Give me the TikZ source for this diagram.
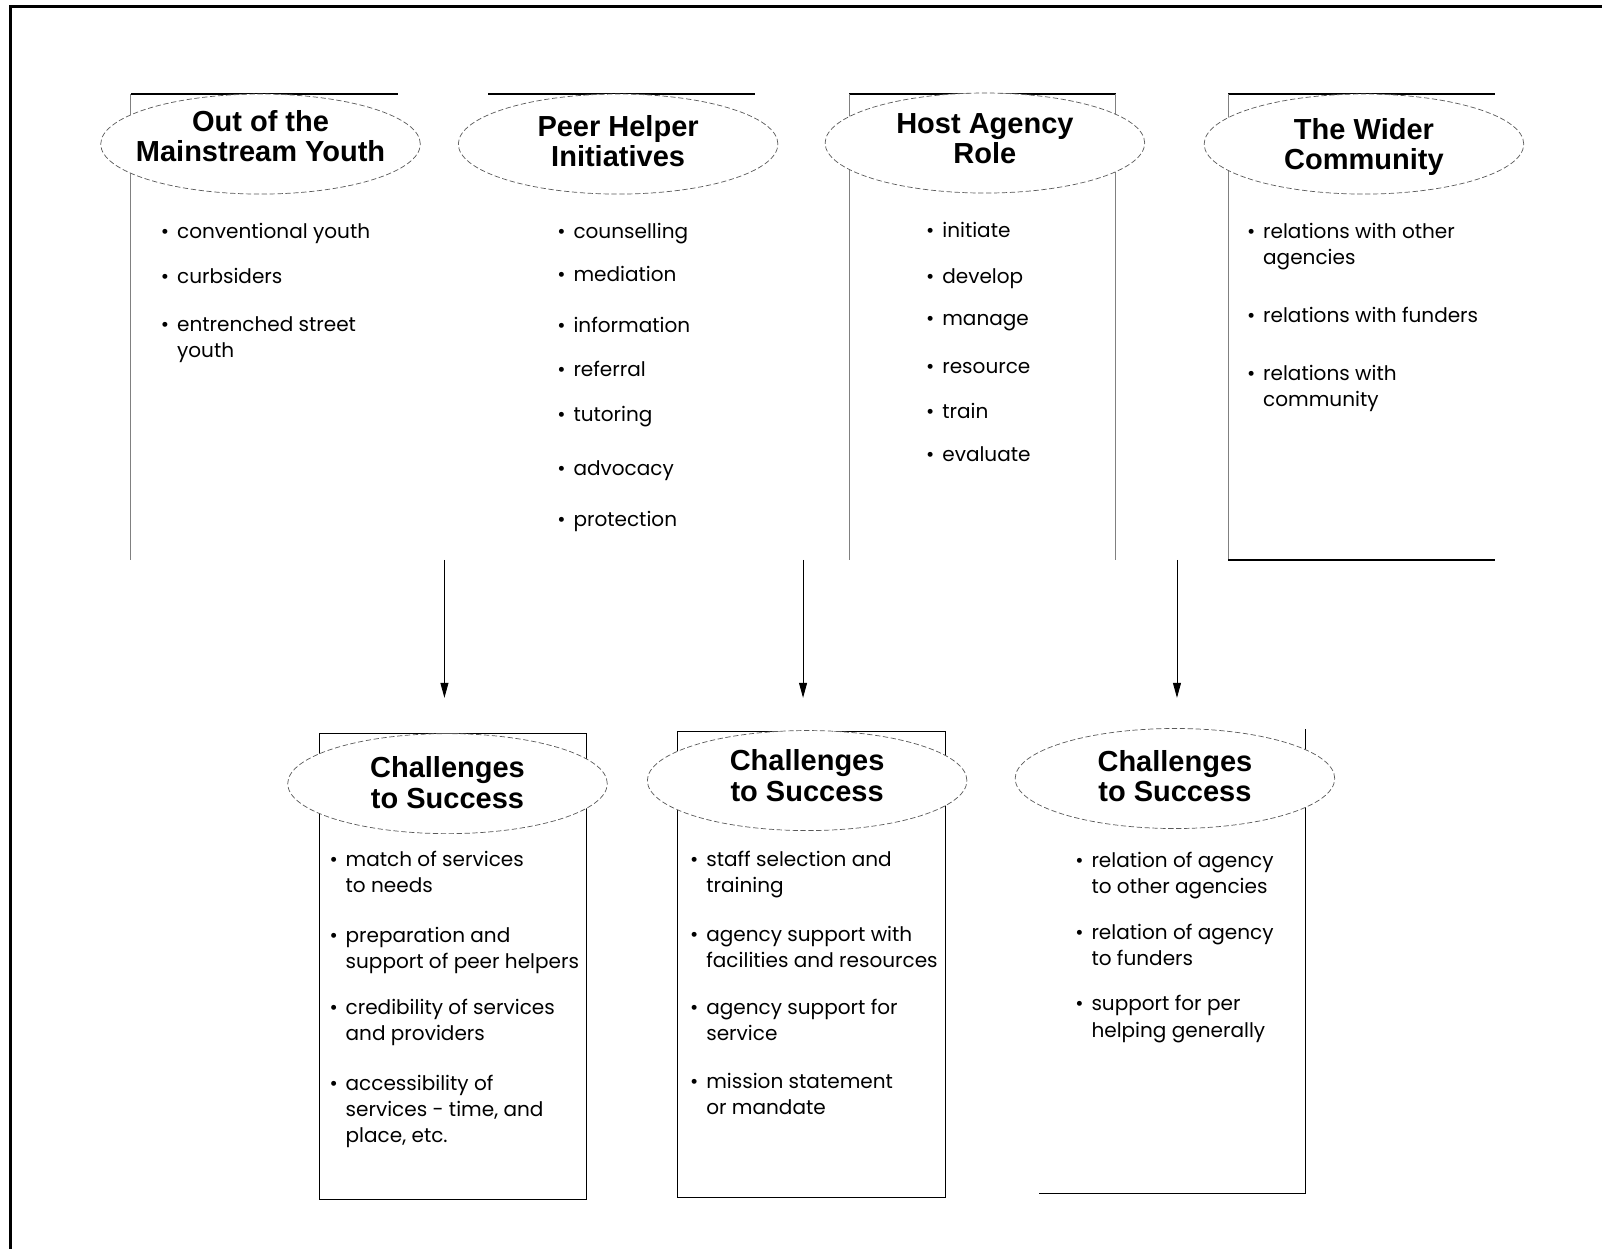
\documentclass[tikz,border=0pt]{standalone}
\usepackage{fontspec}
\setmainfont{Poppins}
\newfontfamily\titelfont{Liberation Sans}
\usetikzlibrary{arrows.meta,shapes.geometric}

\tikzset{
	titel/.style={ellipse, draw=gray!70!black, fill=white, line width=0.4pt,
		dash pattern=on 3pt off 1.5pt, minimum width=6.39cm, minimum height=2cm,
		inner sep=-1.5cm, align=center, font=\titelfont\bfseries\fontsize{16.5}{17.3}\selectfont},
	punkt/.style={anchor=base west, align=left, inner sep=0pt,
		font=\fontsize{11.4}{14.8}\selectfont},
	kante/.style={line width=0.8pt, black},
	seite/.style={line width=0.5pt, gray},
	pfeil/.style={-{Triangle[length=3mm,width=1.6mm]}, line width=0.5pt}
}
\newcommand{\pkt}{\llap{\textbullet\hspace{4.5pt}}}

\begin{document}
\begin{tikzpicture}[x=0.2043mm,y=-0.2043mm]
		\useasboundingbox (0,0) rectangle (1568,1222.5);
		
		% zeichne Rahmen
		\draw[line width=1.7pt] (10,1222.5) -- (10,6) -- (1568,6);
		
		% zeichne obere Kaesten
		\draw[kante] (128,92) -- (390,92);
		\draw[seite] (128,92) -- (128,548);
		\draw[kante] (478,92) -- (739,92);
		\draw[kante] (831,92) -- (1092,92);
		\draw[seite] (831,92) -- (831,548);
		\draw[seite] (1092,92) -- (1092,548);
		\draw[kante] (1202,92) -- (1463,92);
		\draw[seite] (1202,92) -- (1202,548);
		\draw[kante] (1202,548) -- (1463,548);
		
		% zeichne untere Kaesten
		\draw[line width=0.5pt] (313,718) rectangle (574,1174);
		\draw[line width=0.5pt] (663,716) rectangle (925,1172);
		\draw[line width=0.5pt] (1278,714) -- (1278,1168);
		\draw[kante] (1017,1168) -- (1278,1168);
		
		% zeichne Ellipsen
		\node[titel, text depth=9.3pt] (jugend) at (255,141) {Out of the\\Mainstream Youth};
		\node[titel, text depth=3.8pt] (helfer) at (605,141) {Peer Helper\\Initiatives};
		\node[titel, text depth=4.8pt] (agentur) at (964,140) {Host Agency\\Role};
		\node[titel, text depth=0pt] (gemeinde) at (1335,141) {The Wider\\Community};
		\node[titel, text depth=1.4pt] (hind1) at (438,767) {Challenges\\to Success};
		\node[titel, text depth=6pt] (hind2) at (790,764) {Challenges\\to Success};
		\node[titel, text depth=3.1pt] (hind3) at (1150,762) {Challenges\\to Success};
		
		% Punkte Jugend
		\node[punkt] (j1) at (173,233) {\pkt conventional youth};
		\node[punkt] (j2) at (173,277) {\pkt curbsiders};
		\node[punkt] (j3) at (173,350) {\pkt entrenched street\\youth};
		
		% Punkte Helfer
		\node[punkt] (h1) at (561,233) {\pkt counselling};
		\node[punkt] (h2) at (561,276) {\pkt mediation};
		\node[punkt] (h3) at (561,325) {\pkt information};
		\node[punkt] (h4) at (561,369) {\pkt referral};
		\node[punkt] (h5) at (561,413) {\pkt tutoring};
		\node[punkt] (h6) at (561,465) {\pkt advocacy};
		\node[punkt] (h7) at (561,515) {\pkt protection};
		
		% Punkte Agentur
		\node[punkt] (a1) at (922,232) {\pkt initiate};
		\node[punkt] (a2) at (922,277) {\pkt develop};
		\node[punkt] (a3) at (922,319) {\pkt manage};
		\node[punkt] (a4) at (922,366) {\pkt resource};
		\node[punkt] (a5) at (922,410) {\pkt train};
		\node[punkt] (a6) at (922,452) {\pkt evaluate};
		
		% Punkte Gemeinde
		\node[punkt] (g1) at (1236,259) {\pkt relations with other\\agencies};
		\node[punkt] (g2) at (1236,316) {\pkt relations with funders};
		\node[punkt] (g3) at (1236,398) {\pkt relations with\\community};
		
		% Punkte Hindernisse
		\node[punkt] (k1) at (338,874) {\pkt match of services\\to needs};
		\node[punkt] (k2) at (338,948) {\pkt preparation and\\support of peer helpers};
		\node[punkt] (k3) at (338,1018) {\pkt credibility of services\\and providers};
		\node[punkt] (k4) at (338,1118) {\pkt accessibility of\\services - time, and\\place, etc.};
		\node[punkt] (l1) at (691,874) {\pkt staff selection and\\training};
		\node[punkt] (l2) at (691,947) {\pkt agency support with\\facilities and resources};
		\node[punkt] (l3) at (691,1018) {\pkt agency support for\\service};
		\node[punkt] (l4) at (691,1091) {\pkt mission statement\\or mandate};
		\node[punkt] (m1) at (1068,875) {\pkt relation of agency\\to other agencies};
		\node[punkt] (m2) at (1068,945) {\pkt relation of agency\\to funders};
		\node[punkt] (m3) at (1068,1015) {\pkt support for per\\helping generally};
		
		% zeichne Pfeile
		\coordinate (p1a) at (435,548);
		\coordinate (p1b) at (435,683);
		\coordinate (p2a) at (786,548);
		\coordinate (p2b) at (786,683);
		\coordinate (p3a) at (1152,548);
		\coordinate (p3b) at (1152,683);
		\draw[pfeil] (p1a) -- (p1b);
		\draw[pfeil] (p2a) -- (p2b);
		\draw[pfeil] (p3a) -- (p3b);
	\end{tikzpicture}
\end{document}
